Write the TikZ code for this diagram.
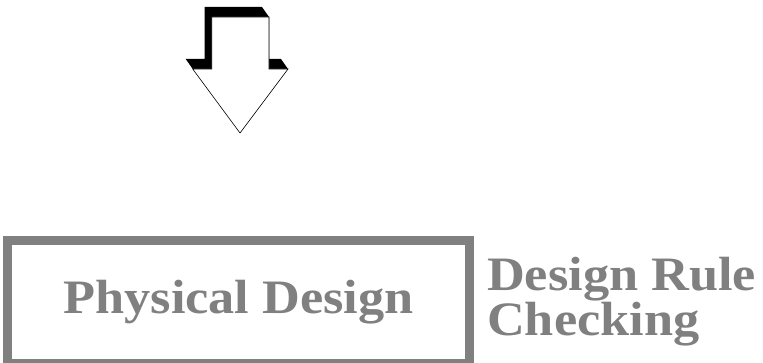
\documentclass[tikz,border=0pt]{standalone}
\usepackage{fontspec}
\newfontfamily\labelfont[FakeStretch=1.09]{Liberation Serif}
\definecolor{boxgray}{HTML}{808080}
\tikzset{
  labeltext/.style={font=\labelfont\bfseries\fontsize{48}{42.5}\selectfont, text=boxgray, inner sep=0pt},
  designbox/.style={draw=boxgray, line width=8.5pt, minimum width=462.2pt, minimum height=123pt, inner sep=0pt},
}
\begin{document}
\begin{tikzpicture}[x=1pt,y=-1pt]
\useasboundingbox (0,0) rectangle (763,363);
\clip (0,0) rectangle (763,363);
% arrow shadow (extrusion)
\fill[black] (204.7,7) -- (262,7) -- (269,17) -- (269,59) -- (281,59) -- (288,69)
  -- (192.7,69) -- (185.7,59) -- (204.7,59) -- cycle;
% arrow body
\draw[fill=white, line width=0.6pt] (211.7,17) -- (269,17) -- (269,69) -- (288,69)
  -- (240,133) -- (192.7,69) -- (211.7,69) -- cycle;
% box
\node[designbox, labeltext] (pd) at (238.6,302) {Physical Design};
% label
\node[labeltext, anchor=base west, align=left] (drc) at (487,335.5) {Design Rule\\Checking};
\end{tikzpicture}
\end{document}
